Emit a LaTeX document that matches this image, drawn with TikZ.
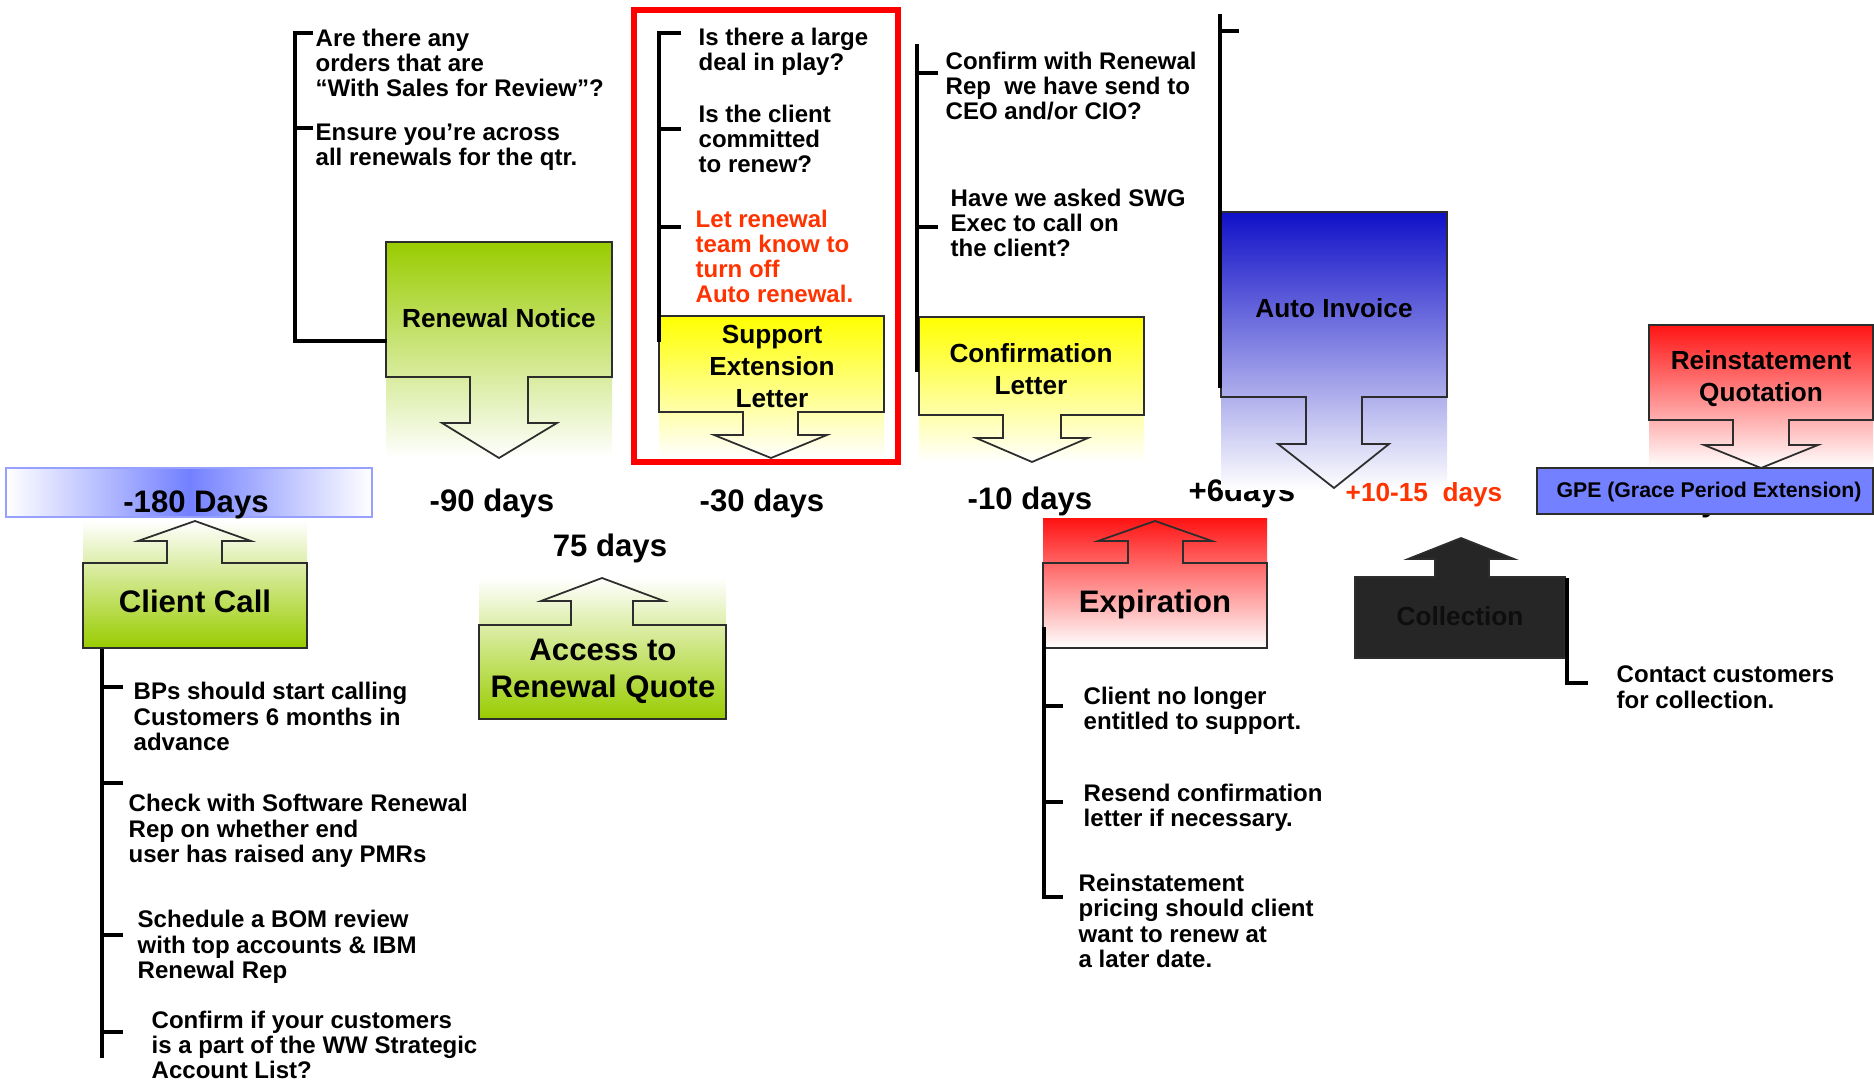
\documentclass[tikz,border=0pt]{standalone}
\usepackage{fontspec}
\setmainfont{Liberation Sans}
\definecolor{pptgreen}{RGB}{153,204,0}
\definecolor{pptyellow}{RGB}{255,255,0}
\definecolor{pptblue}{RGB}{16,16,200}
\definecolor{pptred}{RGB}{255,20,20}
\definecolor{gpeblue}{RGB}{115,128,255}
\definecolor{frameblue}{RGB}{150,160,255}
\definecolor{hotred}{RGB}{255,51,0}
\definecolor{coal}{RGB}{38,38,38}
\definecolor{coalink}{RGB}{14,14,14}
\definecolor{edgegray}{RGB}{45,45,45}
\tikzset{%
  callout/.style={draw=edgegray, line width=0.5pt},
  spine/.style={line width=1.15pt},
  % base = last line of a multi-line node
  note/.style={
    inner sep=0pt,
    anchor=base west,
    align=left,
    font=\fontsize{6.83pt}{7.11pt}\selectfont\bfseries
  },
  boxlabel/.style={
    inner sep=0pt,
    anchor=base,
    align=center,
    font=\fontsize{7.45pt}{9.1pt}\selectfont\bfseries
  },
  biglabel/.style={
    inner sep=0pt,
    anchor=base,
    align=center,
    font=\fontsize{8.85pt}{10.5pt}\selectfont\bfseries
  },
  gpelabel/.style={
    inner sep=0pt,
    anchor=base,
    font=\fontsize{6.05pt}{7pt}\selectfont\bfseries
  },
}

\begin{document}
\begin{tikzpicture}[x=0.01cm, y=-0.01cm]
\useasboundingbox (0,0) rectangle (1874,1083);

% -180 days
\shade[left color=white, right color=white, middle color=gpeblue] (6,468) rectangle (372,517);
\draw[frameblue, line width=0.5pt] (6,468) rectangle (372,517);
\node[biglabel] (d180) at (196,513) {-180 Days};

% client call
\shade[top color=white, bottom color=pptgreen] (83,521) rectangle (307,648);
\draw[callout] (83,563) -- (167,563) -- (167,541) -- (138,541) -- (195,521) -- (251,541)
  -- (222,541) -- (222,563) -- (307,563) -- (307,648) -- (83,648) -- cycle;
\node[biglabel] (client) at (195,613) {Client Call};
\draw[spine] (102,649) -- (102,1058);
\foreach \y in {687,783,935,1032}
  \draw[spine] (102,\y) -- (123,\y);
\node[note] (bpcall) at (133,750) {BPs should start calling\\Customers 6 months in\\advance};
\node[note] (pmr) at (128,862) {Check with Software Renewal\\Rep on whether end\\user has raised any PMRs};
\node[note] (bom) at (137,978) {Schedule a BOM review\\with top accounts \& IBM\\Renewal Rep};
\node[note] (wwlist) at (151,1078) {Confirm if your customers\\is a part of the WW Strategic\\Account List?};

% renewal notice
\shade[top color=pptgreen, bottom color=white] (386,242) rectangle (612,458);
\draw[callout] (386,242) -- (612,242) -- (612,377) -- (528,377) -- (528,423) -- (557,423)
  -- (499,458) -- (442,423) -- (470,423) -- (470,377) -- (386,377) -- cycle;
\node[boxlabel] (notice) at (499,328) {Renewal Notice};
\draw[spine] (313,33) -- (295,33) -- (295,341) -- (387,341);
\draw[spine] (295,128) -- (313,128);
\node[note] (orders) at (315,97) {Are there any\\orders that are\\“With Sales for Review”?};
\node[note] (ensure) at (315,166) {Ensure you’re across\\all renewals for the qtr.};

% support extension letter
\shade[top color=pptyellow, bottom color=white] (659,316) rectangle (884,458);
\draw[callout] (659,316) -- (884,316) -- (884,412) -- (798,412) -- (798,435) -- (827,435)
  -- (771,458) -- (714,435) -- (743,435) -- (743,412) -- (659,412) -- cycle;
\node[boxlabel] (support) at (772,408) {Support\\Extension\\Letter};
\draw[spine] (681,33) -- (659,33) -- (659,342);
\foreach \y in {129,227}
  \draw[spine] (659,\y) -- (681,\y);
\node[note] (deal) at (698,71) {Is there a large\\deal in play?};
\node[note] (commit) at (698,173) {Is the client\\committed\\to renew?};
\node[note, text=hotred] (autooff) at (695,303) {Let renewal\\team know to\\turn off\\Auto renewal.};
\draw[red, line width=1.7pt] (634,10) rectangle (898,462);

% confirmation letter
\shade[top color=pptyellow, bottom color=white] (919,317) rectangle (1144,462);
\draw[callout] (919,317) -- (1144,317) -- (1144,415) -- (1061,415) -- (1061,438) -- (1088,438)
  -- (1032,462) -- (976,438) -- (1003,438) -- (1003,415) -- (919,415) -- cycle;
\node[boxlabel] (confirm) at (1031,395) {Confirmation\\Letter};
\draw[spine] (917,44) -- (917,372);
\foreach \y in {73,227}
  \draw[spine] (917,\y) -- (938,\y);
\node[note] (ceo) at (945,120) {Confirm with Renewal\\Rep~~we have send to\\CEO and/or CIO?};
\node[note] (swg) at (950,257) {Have we asked SWG\\Exec to call on\\the client?};

% day marks
\node[biglabel] (d90) at (492,512) {-90 days};
\node[biglabel] (d30) at (762,512) {-30 days};
\node[biglabel] (d10) at (1030,510) {-10 days};
\node[biglabel] (d75) at (610,557) {75 days};
\node[biglabel, anchor=base west] (plus6) at (1188,502) {+6days};

% auto invoice
\shade[top color=pptblue, bottom color=white] (1221,212) rectangle (1447,490);
\draw[callout] (1221,212) -- (1447,212) -- (1447,397) -- (1362,397) -- (1362,444) -- (1389,444)
  -- (1334,488) -- (1278,444) -- (1306,444) -- (1306,397) -- (1221,397) -- cycle;
\node[boxlabel] (invoice) at (1334,318) {Auto Invoice};
\draw[spine] (1220,14) -- (1220,388);
\draw[spine] (1220,31) -- (1239,31);
\node[boxlabel, anchor=base west, text=hotred] (plus1015) at (1345,502) {+10-15~~days};

% reinstatement and gpe
\shade[top color=pptred, bottom color=white] (1649,325) rectangle (1873,468);
\draw[callout] (1649,325) -- (1873,325) -- (1873,420) -- (1789,420) -- (1789,445) -- (1818,445)
  -- (1761,468) -- (1704,445) -- (1733,445) -- (1733,420) -- (1649,420) -- cycle;
\node[boxlabel] (reinstate) at (1761,402) {Reinstatement\\Quotation};
\node[biglabel, anchor=base west] (gpedays) at (1664,512) {days};
\draw[callout, fill=gpeblue] (1537,468) rectangle (1873,514);
\node[gpelabel] (gpe) at (1709,498) {GPE (Grace Period Extension)};

% access to renewal quote
\shade[top color=white, bottom color=pptgreen] (479,578) rectangle (726,719);
\draw[callout] (479,625) -- (571,625) -- (571,601) -- (541,601) -- (602,578) -- (664,601)
  -- (633,601) -- (633,625) -- (726,625) -- (726,719) -- (479,719) -- cycle;
\node[biglabel] (access) at (603,697) {Access to\\Renewal Quote};

% expiration
\shade[top color=pptred, bottom color=white] (1043,519) rectangle (1267,648);
\draw[callout] (1043,563) -- (1128,563) -- (1128,541) -- (1098,541) -- (1155,521) -- (1212,541)
  -- (1183,541) -- (1183,563) -- (1267,563) -- (1267,648) -- (1043,648) -- cycle;
\node[biglabel] (expire) at (1155,613) {Expiration};
\draw[spine] (1044,627) -- (1044,897) -- (1063,897);
\foreach \y in {706,802}
  \draw[spine] (1044,\y) -- (1063,\y);
\node[note] (noentitle) at (1083,729) {Client no longer\\entitled to support.};
\node[note] (resend) at (1083,826) {Resend confirmation\\letter if necessary.};
\node[note] (reprice) at (1078,967) {Reinstatement\\pricing should client\\want to renew at\\a later date.};

% collection
\draw[callout, fill=coal] (1355,577) -- (1435,577) -- (1435,559) -- (1408,559) -- (1461,538) -- (1514,559)
  -- (1489,559) -- (1489,577) -- (1565,577) -- (1565,658) -- (1355,658) -- cycle;
\node[boxlabel, text=coalink] (collect) at (1460,626) {Collection};
\draw[spine] (1567,578) -- (1567,683) -- (1588,683);
\node[note] (contact) at (1616,708) {Contact customers\\for collection.};
\end{tikzpicture}
\end{document}
